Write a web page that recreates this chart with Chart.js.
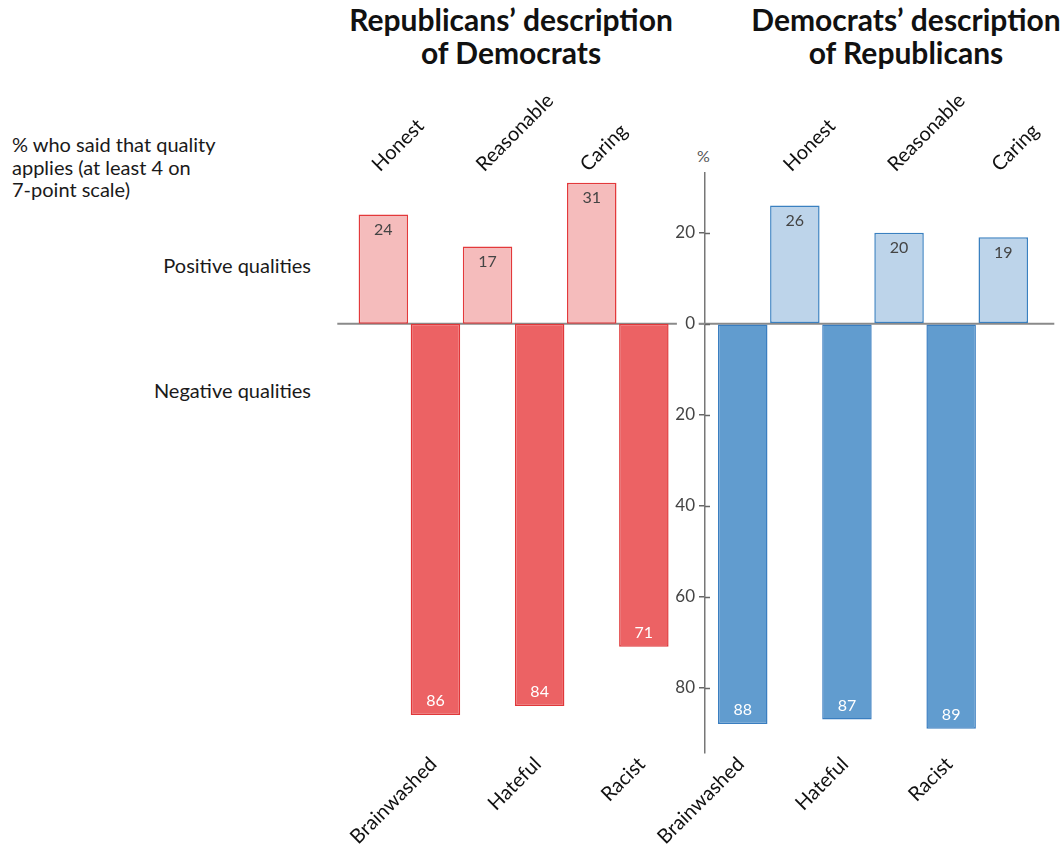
<!DOCTYPE html>
<html>
<head>
<meta charset="utf-8">
<script src="https://cdn.jsdelivr.net/npm/chart.js@4.4.1/dist/chart.umd.min.js"></script>
<style>
  html, body { margin: 0; padding: 0; background: #fff; }
  #page { position: relative; width: 1060px; height: 845px; overflow: hidden; font-family: Lato, sans-serif; color: #1a1a1a; }
  canvas { position: absolute; top: 0; }
  .title { position: absolute; top: 3px; width: 420px; font-weight: 700; font-size: 30px; line-height: 33px; text-align: center; color: #111; }
  .note { position: absolute; font-size: 20px; line-height: 22.5px; white-space: nowrap; }
</style>
</head>
<body>
<div id="page">
  <div class="title" style="left:301px">Republicans’ description<br>of Democrats</div>
  <div class="title" style="left:696px">Democrats’ description<br>of Republicans</div>
  <div class="note" style="left:12px;top:133px">% who said that quality<br>applies (at least 4 on<br>7-point scale)</div>
  <div class="note" style="right:749px;top:254px;text-align:right">Positive qualities</div>
  <div class="note" style="right:749px;top:379px;text-align:right">Negative qualities</div>
  <div class="note" style="left:697px;top:145px;font-size:16px;color:#555">%</div>
  <canvas id="leftPanel" width="405" height="845" style="left:300px"></canvas>
  <canvas id="rightPanel" width="420" height="845" style="left:640px"></canvas>
</div>
<script>
// Qualities, in the order the bars appear in each panel
const leftCategories = ['Honest', 'Brainwashed', 'Reasonable', 'Hateful', 'Caring', 'Racist'];
const rightCategories = ['Brainwashed', 'Honest', 'Hateful', 'Reasonable', 'Racist', 'Caring'];
const positiveQualities = ['Honest', 'Reasonable', 'Caring'];
const negativeQualities = ['Brainwashed', 'Hateful', 'Racist'];

// % who said the quality applies
const repOnDemPositive = [24, 17, 31];
const repOnDemNegative = [86, 84, 71];
const demOnRepPositive = [26, 20, 19];
const demOnRepNegative = [88, 87, 89];

// Shared value axis (negatives plotted downwards)
const yMin = -94.2;
const yMax = 33.3;
const yTickStep = 20;

function panelValues(categories, posVals, negVals) {
  return categories.map(c => {
    const p = positiveQualities.indexOf(c);
    if (p >= 0) return posVals[p];
    return -negVals[negativeQualities.indexOf(c)];
  });
}

const FONT = 'Lato, sans-serif';

const zeroLine = {
  id: 'zeroLine',
  beforeDatasetsDraw(chart, args, opts) {
    const ctx = chart.ctx;
    const y = chart.scales.y.getPixelForValue(0);
    const { left, right } = chart.chartArea;
    ctx.save();
    ctx.strokeStyle = '#8a8a8a';
    ctx.lineWidth = 2;
    ctx.beginPath();
    ctx.moveTo(left - opts.extendLeft, y);
    ctx.lineTo(right + opts.extendRight, y);
    ctx.stroke();
    ctx.restore();
  }
};

const valueLabels = {
  id: 'valueLabels',
  afterDatasetsDraw(chart) {
    const ctx = chart.ctx;
    const data = chart.data.datasets[0].data;
    ctx.save();
    ctx.font = '16px ' + FONT;
    ctx.textAlign = 'center';
    ctx.textBaseline = 'middle';
    chart.getDatasetMeta(0).data.forEach((bar, i) => {
      const v = data[i];
      ctx.fillStyle = v >= 0 ? '#444' : '#fff';
      ctx.fillText(String(Math.abs(v)), bar.x, v >= 0 ? bar.y + 15 : bar.y - 14);
    });
    ctx.restore();
  }
};

// Small inner half of the tick marks on the value axis
const innerTicks = {
  id: 'innerTicks',
  afterDraw(chart, args, opts) {
    if (!opts.enabled) return;
    const s = chart.scales.y;
    const ctx = chart.ctx;
    ctx.save();
    ctx.strokeStyle = '#666';
    ctx.lineWidth = 1.5;
    s.ticks.forEach(t => {
      const y = Math.round(s.getPixelForValue(t.value)) + 0.5;
      ctx.beginPath();
      ctx.moveTo(s.right, y);
      ctx.lineTo(s.right + 5, y);
      ctx.stroke();
    });
    ctx.restore();
  }
};

function categoryAxis(position, showSet, padding, labelOffset, height) {
  return {
    type: 'category',
    position: position,
    offset: true,
    grid: { display: false, drawTicks: false },
    border: { display: false },
    ticks: {
      autoSkip: false,
      minRotation: 45,
      maxRotation: 45,
      padding: padding,
      labelOffset: labelOffset,
      color: '#111',
      font: { family: FONT, size: 20 },
      callback(value) {
        const name = this.getLabelForValue(value);
        return showSet.includes(name) ? name : '';
      }
    },
    afterFit(scale) { scale.height = height; }
  };
}

function makePanel(canvasId, categories, values, colors, layoutPadding, showAxis, zeroExt) {
  const scales = {
    x: categoryAxis('bottom', negativeQualities, 0, -2, 92.7),
    xTop: categoryAxis('top', positiveQualities, -4, 9, 172.3),
    y: {
      type: 'linear',
      position: 'left',
      weight: 1,
      min: yMin,
      max: yMax,
      display: showAxis,
      ticks: {
        stepSize: yTickStep,
        includeBounds: false,
        padding: 4,
        color: '#444',
        font: { family: FONT, size: 17 },
        callback: v => String(Math.abs(v))
      },
      grid: { drawOnChartArea: false, drawTicks: true, tickLength: 6, color: '#666', lineWidth: 1.5 },
      border: { display: true, color: '#777', width: 1.5 },
      afterFit(scale) { if (showAxis) scale.width = 65; }
    }
  };
  if (showAxis) {
    // spacer between the value axis and the first bar
    scales.gap = {
      type: 'linear',
      axis: 'y',
      position: 'left',
      weight: 0,
      display: true,
      ticks: { display: false },
      grid: { display: false, drawTicks: false },
      border: { display: false },
      afterFit(scale) { scale.width = 11.7; }
    };
  }
  return new Chart(document.getElementById(canvasId), {
    type: 'bar',
    data: {
      labels: categories,
      datasets: [{
        data: values,
        xAxisID: 'x',
        yAxisID: 'y',
        backgroundColor: c => (c.raw >= 0 ? colors.posFill : colors.negFill),
        borderColor: c => (c.raw >= 0 ? colors.posLine : colors.negLine),
        borderWidth: 1.5,
        borderSkipped: false,
        barPercentage: 0.95,
        categoryPercentage: 1
      }]
    },
    options: {
      responsive: false,
      animation: false,
      devicePixelRatio: 1,
      layout: { padding: layoutPadding },
      plugins: {
        legend: { display: false },
        tooltip: { enabled: false },
        zeroLine: zeroExt,
        innerTicks: { enabled: showAxis }
      },
      scales: scales
    },
    plugins: [zeroLine, valueLabels, innerTicks]
  });
}

makePanel('leftPanel', leftCategories,
  panelValues(leftCategories, repOnDemPositive, repOnDemNegative),
  { posFill: '#f5bcbc', posLine: '#e3393b', negFill: '#ec6264', negLine: '#e0383a' },
  { left: 57.3, right: 35.1, top: 0, bottom: 0 }, false,
  { extendLeft: 20, extendRight: 7 });

makePanel('rightPanel', rightCategories,
  panelValues(rightCategories, demOnRepPositive, demOnRepNegative),
  { posFill: '#bdd4ea', posLine: '#3a80c0', negFill: '#619ccf', negLine: '#3a7ec0' },
  { left: 0, right: 30.7, top: 0, bottom: 0 }, true,
  { extendLeft: 18, extendRight: 25 });
</script>
</body>
</html>
